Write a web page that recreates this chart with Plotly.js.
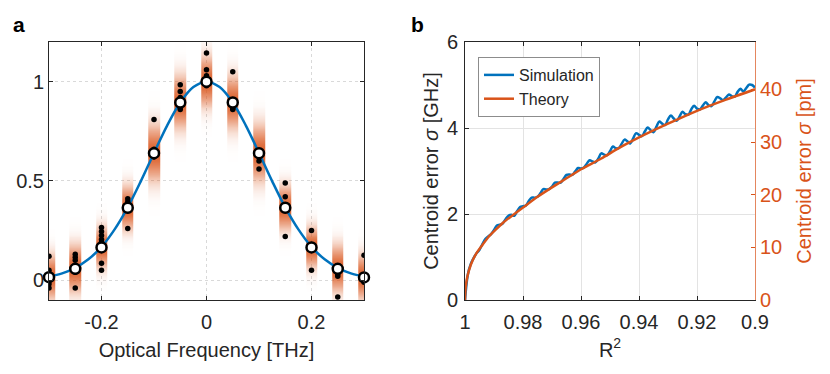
<!DOCTYPE html>
<html>
<head>
<meta charset="utf-8">
<script src="https://cdn.plot.ly/plotly-3.0.1.min.js"></script>
<style>html,body{margin:0;padding:0;background:#fff;}#chart{width:830px;height:374px;}</style>
</head>
<body>
<div id="chart"></div>
<script>
// ---------- Panel a data ----------
const freq = [-0.3, -0.25, -0.2, -0.15, -0.1, -0.05, 0, 0.05, 0.1, 0.15, 0.2, 0.25, 0.3];
const meanVal = [0.015, 0.057, 0.165, 0.365, 0.64, 0.895, 1.0, 0.895, 0.64, 0.365, 0.165, 0.057, 0.014];
const spreadVal = [0.07, 0.075, 0.065, 0.07, 0.09, 0.085, 0.08, 0.085, 0.09, 0.07, 0.065, 0.075, 0.07];

const fitFreq = [-0.3, -0.275, -0.25, -0.225, -0.2, -0.175, -0.15, -0.125, -0.1, -0.075, -0.05, -0.025, 0,
                 0.025, 0.05, 0.075, 0.1, 0.125, 0.15, 0.175, 0.2, 0.225, 0.25, 0.275, 0.3];
const fitVal = [0.018, 0.034, 0.062, 0.105, 0.168, 0.256, 0.367, 0.499, 0.641, 0.779, 0.895, 0.973, 1.0,
                0.973, 0.895, 0.779, 0.641, 0.499, 0.367, 0.256, 0.168, 0.105, 0.062, 0.034, 0.018];

const dotFreq = [-0.3, -0.3, -0.3, -0.3, -0.3, -0.3,
                 -0.25, -0.25, -0.25, -0.25, -0.25,
                 -0.2, -0.2, -0.2, -0.2, -0.2, -0.2, -0.2,
                 -0.15, -0.15, -0.15, -0.15, -0.15,
                 -0.1, -0.1, -0.1,
                 -0.05, -0.05, -0.05, -0.05, -0.05,
                 0, 0, 0, 0,
                 0.05, 0.05, 0.05, 0.05,
                 0.1, 0.1, 0.1,
                 0.15, 0.15, 0.15, 0.15,
                 0.2, 0.2, 0.2,
                 0.25, 0.25, 0.25,
                 0.3, 0.3, 0.3];
const dotVal = [0.12, 0.05, 0.03, 0.0, -0.02, -0.04,
                0.13, 0.115, 0.10, 0.04, -0.04,
                0.265, 0.245, 0.225, 0.205, 0.19, 0.085, 0.05,
                0.41, 0.395, 0.38, 0.35, 0.26,
                0.81, 0.66, 0.62,
                0.985, 0.95, 0.92, 0.87, 0.86,
                1.145, 1.06, 1.03, 0.98,
                1.05, 0.88, 0.865, 0.86,
                0.62, 0.60, 0.56,
                0.49, 0.42, 0.35, 0.22,
                0.25, 0.18, 0.05,
                0.03, 0.02, -0.085,
                0.125, 0.0, -0.01];

// ---------- Panel b data ----------
const simR2 = [1, 0.999, 0.998, 0.997, 0.996, 0.995, 0.994, 0.993, 0.992, 0.991,
  0.99, 0.989, 0.988, 0.987, 0.986, 0.985, 0.984, 0.983, 0.982, 0.981,
  0.98, 0.979, 0.978, 0.977, 0.976, 0.975, 0.974, 0.973, 0.972, 0.971,
  0.97, 0.969, 0.968, 0.967, 0.966, 0.965, 0.964, 0.963, 0.962, 0.961,
  0.96, 0.959, 0.958, 0.957, 0.956, 0.955, 0.954, 0.953, 0.952, 0.951,
  0.95, 0.949, 0.948, 0.947, 0.946, 0.945, 0.944, 0.943, 0.942, 0.941,
  0.94, 0.939, 0.938, 0.937, 0.936, 0.935, 0.934, 0.933, 0.932, 0.931,
  0.93, 0.929, 0.928, 0.927, 0.926, 0.925, 0.924, 0.923, 0.922, 0.921,
  0.92, 0.919, 0.918, 0.917, 0.916, 0.915, 0.914, 0.913, 0.912, 0.911,
  0.91, 0.909, 0.908, 0.907, 0.906, 0.905, 0.904, 0.903, 0.902, 0.901, 0.9];
const simGHz = [0.00, 0.60, 0.84, 0.98, 1.09, 1.17, 1.30, 1.42, 1.48, 1.53,
  1.63, 1.73, 1.75, 1.78, 1.88, 1.96, 1.98, 1.96, 2.07, 2.16,
  2.18, 2.20, 2.30, 2.38, 2.38, 2.40, 2.48, 2.58, 2.57, 2.58,
  2.64, 2.73, 2.73, 2.73, 2.82, 2.91, 2.92, 2.91, 2.99, 3.07,
  3.06, 3.08, 3.17, 3.25, 3.22, 3.20, 3.29, 3.41, 3.38, 3.37,
  3.46, 3.57, 3.53, 3.53, 3.63, 3.73, 3.69, 3.64, 3.76, 3.88,
  3.84, 3.81, 3.92, 4.01, 3.95, 3.90, 4.03, 4.15, 4.10, 4.07,
  4.20, 4.29, 4.22, 4.17, 4.27, 4.38, 4.32, 4.31, 4.43, 4.52,
  4.45, 4.43, 4.52, 4.60, 4.53, 4.51, 4.62, 4.72, 4.69, 4.65,
  4.71, 4.78, 4.74, 4.73, 4.84, 4.91, 4.85, 4.93, 5.01, 5.00, 4.94];
const theoryR2 = [1, 0.9998, 0.9992, 0.998, 0.9964, 0.994, 0.992, 0.9895, 0.9865, 0.984, 0.98,
  0.975, 0.97, 0.965, 0.96, 0.953, 0.947, 0.94, 0.93, 0.92, 0.91, 0.9];
const theoryGHz = [0, 0.27, 0.54, 0.82, 1.05, 1.28, 1.46, 1.63, 1.82, 1.95, 2.15,
  2.40, 2.62, 2.83, 3.04, 3.29, 3.53, 3.78, 4.10, 4.40, 4.66, 4.90];

const xTicksB = [1, 0.98, 0.96, 0.94, 0.92, 0.9];
const xTickTextB = ['1', '0.98', '0.96', '0.94', '0.92', '0.9'];
const yTicksB = [0, 2, 4, 6];
const yTicksPm = [0, 10, 20, 30, 40];

// ---------- style ----------
const FONT = 'Liberation Sans, Arial, Helvetica, sans-serif';
const DARK = '#262626';
const BLUE = '#0072BD';
const ORANGE = '#D95319';
const TICK = 20, LABEL = 20;

// gradient stripes for panel a (heatmap with transparent gaps)
const halfW = 0.011;
const edges = [];
freq.forEach(c => { edges.push(c - halfW, c + halfW); });
const yGrid = [];
for (let v = -0.1; v <= 1.2001; v += 0.005) yGrid.push(+v.toFixed(4));
const zGrid = yGrid.map(yv => {
  const row = [];
  freq.forEach((c, i) => {
    const d = (yv - meanVal[i]) / spreadVal[i];
    row.push(Math.exp(-0.5 * d * d));
    if (i < freq.length - 1) row.push(null);
  });
  return row;
});

const traces = [
  {type: 'heatmap', x: edges, y: yGrid, z: zGrid, xaxis: 'x', yaxis: 'y',
   colorscale: [[0, 'rgba(217,83,25,0)'], [0.5, 'rgba(217,83,25,0.5)'], [1, 'rgba(217,83,25,0.9)']],
   zmin: 0, zmax: 1, showscale: false, hoverinfo: 'skip', zsmooth: false},
  {type: 'scatter', mode: 'lines', x: fitFreq, y: fitVal, xaxis: 'x', yaxis: 'y',
   line: {color: BLUE, width: 2.5, shape: 'spline'}, showlegend: false, hoverinfo: 'skip'},
  {type: 'scatter', mode: 'markers', x: dotFreq, y: dotVal, xaxis: 'x', yaxis: 'y',
   marker: {color: '#000', size: 5.5}, showlegend: false, hoverinfo: 'skip', cliponaxis: true},
  {type: 'scatter', mode: 'markers', x: freq, y: meanVal, xaxis: 'x', yaxis: 'y',
   marker: {color: '#fff', size: 10, line: {color: '#000', width: 2.5}}, showlegend: false, hoverinfo: 'skip', cliponaxis: false},
  // panel b
  {type: 'scatter', mode: 'lines', name: 'Simulation', x: simR2, y: simGHz, xaxis: 'x2', yaxis: 'y2',
   line: {color: BLUE, width: 2.5, shape: 'spline', smoothing: 1}},
  {type: 'scatter', mode: 'lines', name: 'Theory', x: theoryR2, y: theoryGHz, xaxis: 'x2', yaxis: 'y2',
   line: {color: ORANGE, width: 2.5, shape: 'spline', smoothing: 0.6}},
  {type: 'scatter', mode: 'lines', x: [], y: [], xaxis: 'x2', yaxis: 'y3', showlegend: false, hoverinfo: 'skip'}
];

const axCommon = {
  ticks: 'inside', ticklen: 4, tickwidth: 1, tickcolor: DARK,
  showline: true, linecolor: DARK, linewidth: 1,
  zeroline: false, automargin: false,
  tickfont: {family: FONT, size: TICK, color: DARK}
};

const layout = {
  width: 830, height: 374,
  margin: {l: 0, r: 0, t: 0, b: 0},
  paper_bgcolor: '#fff', plot_bgcolor: '#fff',
  font: {family: FONT, color: DARK},
  showlegend: true,
  legend: {x: 478 / 830, y: 1 - 57 / 374, xanchor: 'left', yanchor: 'top',
           bgcolor: '#fff', bordercolor: '#8c8c8c', borderwidth: 1,
           font: {family: FONT, size: 16, color: DARK}, tracegroupgap: 0},
  xaxis: Object.assign({}, axCommon, {
    domain: [49 / 830, 364 / 830], range: [-0.3, 0.3], anchor: 'y',
    tickvals: [-0.2, 0, 0.2], ticktext: ['-0.2', '0', '0.2'], ticklabelstandoff: 4,
    mirror: 'ticks', showgrid: true, gridcolor: '#d9d9d9', griddash: 'dot', gridwidth: 1,
    title: {text: 'Optical Frequency [THz]', font: {family: FONT, size: LABEL, color: DARK}, standoff: 10}
  }),
  yaxis: Object.assign({}, axCommon, {
    domain: [1 - 300 / 374, 1 - 42 / 374], range: [-0.1, 1.2], anchor: 'x',
    tickvals: [0, 0.5, 1], ticktext: ['0', '0.5', '1'],
    mirror: 'ticks', showgrid: true, gridcolor: '#d9d9d9', griddash: 'dot', gridwidth: 1
  }),
  xaxis2: Object.assign({}, axCommon, {
    domain: [465 / 830, 755 / 830], range: [1, 0.9], anchor: 'y2',
    tickvals: xTicksB, ticktext: xTickTextB, ticklabelstandoff: 4,
    mirror: 'ticks', showgrid: true, gridcolor: '#e3e3e3', gridwidth: 1,
    title: {text: 'R<sup>2</sup>', font: {family: FONT, size: LABEL, color: DARK}, standoff: 10}
  }),
  yaxis2: Object.assign({}, axCommon, {
    domain: [1 - 300 / 374, 1 - 42 / 374], range: [0, 6], anchor: 'x2',
    tickvals: yTicksB, ticktext: ['0', '2', '4', '6'], ticklabelstandoff: 2,
    showgrid: true, gridcolor: '#e3e3e3', gridwidth: 1,
    title: {text: 'Centroid error <i>σ</i> [GHz]', font: {family: FONT, size: LABEL, color: DARK}, standoff: 2}
  }),
  yaxis3: Object.assign({}, axCommon, {
    overlaying: 'y2', side: 'right', anchor: 'x2', range: [0, 49],
    tickvals: yTicksPm, ticktext: ['0', '10', '20', '30', '40'],
    tickcolor: ORANGE, linecolor: 'rgba(217,83,25,0.7)', showgrid: false,
    tickfont: {family: FONT, size: TICK, color: ORANGE},
    title: {text: 'Centroid error <i>σ</i> [pm]', font: {family: FONT, size: LABEL, color: ORANGE}, standoff: 15}
  }),
  annotations: [
    {text: '<b>a</b>', xref: 'paper', yref: 'paper', x: 11 / 830, y: 1 - 24 / 374,
     xanchor: 'left', yanchor: 'middle', showarrow: false, font: {family: FONT, size: 21, color: '#000'}},
    {text: '<b>b</b>', xref: 'paper', yref: 'paper', x: 409 / 830, y: 1 - 24 / 374,
     xanchor: 'left', yanchor: 'middle', showarrow: false, font: {family: FONT, size: 21, color: '#000'}}
  ]
};

Plotly.newPlot('chart', traces, layout, {staticPlot: true, displayModeBar: false});
</script>
</body>
</html>
